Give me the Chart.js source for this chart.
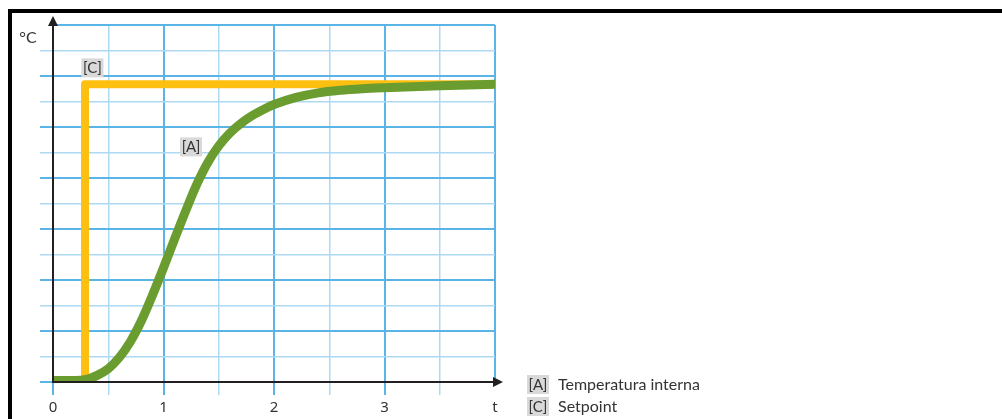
<!DOCTYPE html>
<html>
<head>
<meta charset="utf-8">
<script src="https://cdn.jsdelivr.net/npm/chart.js@4"></script>
<style>
  html, body { margin: 0; padding: 0; background: #fff; }
  #wrap { position: relative; width: 1002px; height: 419px; overflow: hidden; }
  #frame { position: absolute; left: 8px; top: 9px; width: 1100px; height: 500px;
           border-top: 4px solid #000; border-left: 4px solid #000; box-sizing: border-box; }
  canvas { position: absolute; left: 0; top: 0; }
</style>
</head>
<body>
<div id="wrap">
  <div id="frame"></div>
  <canvas id="c" width="1002" height="419"></canvas>
</div>
<script>
// ---- data ----
const tValues    = [0, 0.1, 0.2, 0.3, 0.4, 0.5, 0.6, 0.7, 0.8, 0.9, 1.0, 1.1, 1.2, 1.3, 1.4, 1.5, 1.6, 1.7, 1.8, 1.9, 2.0, 2.2, 2.4, 2.6, 2.8, 3.0, 3.5, 4.0];
const tempValues = [0.03, 0.03, 0.03, 0.05, 0.13, 0.26, 0.48, 0.79, 1.20, 1.70, 2.24, 2.80, 3.35, 3.87, 4.30, 4.63, 4.88, 5.07, 5.22, 5.34, 5.44, 5.58, 5.67, 5.72, 5.75, 5.77, 5.81, 5.84];
const setpointTimes  = [0.29, 0.29, 4.0];
const setpointValues = [0, 5.84, 5.84];
const xTickValues = [0, 1, 2, 3, 4];
const xTickLabels = ['0', '1', '2', '3', 't'];
const seriesTags  = ['[A]', '[C]'];
const seriesNames = ['Temperatura interna', 'Setpoint'];
const yUnit = '°C';

const GREEN = '#6b9c2f', YELLOW = '#fdc010';
const MAJOR = '#5ab4e6', MINOR = '#aed9f2', AXIS = '#231f20', TEXT = '#333333';

const toPts = (xs, ys) => xs.map((x, i) => ({ x: x, y: ys[i] }));
const isMajor = v => Math.abs(v - Math.round(v)) < 1e-6;

function tagBox(ctx, text, cx, cy) {
  ctx.save();
  ctx.font = '15px Lato';
  const w = 22, h = 19;
  ctx.fillStyle = '#d9d9d9';
  ctx.fillRect(cx - w / 2, cy - h / 2, w, h);
  ctx.fillStyle = TEXT;
  ctx.textAlign = 'center';
  ctx.textBaseline = 'middle';
  ctx.fillText(text, cx, cy + 0.5);
  ctx.restore();
}

const decor = {
  id: 'decor',
  afterDatasetsDraw(chart) {
    const { ctx, chartArea: a, scales: { x, y } } = chart;
    const ox = x.getPixelForValue(0), oy = y.getPixelForValue(0);
    ctx.save();
    ctx.strokeStyle = AXIS; ctx.fillStyle = AXIS; ctx.lineWidth = 2;
    // y axis
    ctx.beginPath(); ctx.moveTo(ox, oy + 1); ctx.lineTo(ox, a.top - 4); ctx.stroke();
    ctx.beginPath(); ctx.moveTo(ox, a.top - 9); ctx.lineTo(ox - 5, a.top + 1); ctx.lineTo(ox + 5, a.top + 1); ctx.closePath(); ctx.fill();
    // x axis
    ctx.beginPath(); ctx.moveTo(ox, oy); ctx.lineTo(a.right + 2, oy); ctx.stroke();
    ctx.beginPath(); ctx.moveTo(a.right + 8, oy); ctx.lineTo(a.right - 2, oy - 5); ctx.lineTo(a.right - 2, oy + 5); ctx.closePath(); ctx.fill();
    // unit
    ctx.font = '16px Lato'; ctx.fillStyle = TEXT; ctx.textAlign = 'center'; ctx.textBaseline = 'middle';
    ctx.fillText(yUnit, ox - 25, a.top + 13);
    ctx.restore();
    // in-chart tags
    tagBox(ctx, seriesTags[1], x.getPixelForValue(0.357), y.getPixelForValue(6.16));
    tagBox(ctx, seriesTags[0], x.getPixelForValue(1.249), y.getPixelForValue(4.61));
    // legend
    const lx = a.right + 43;
    seriesTags.forEach((tg, i) => {
      const cy = oy + 2.5 + i * 22;
      tagBox(ctx, tg, lx, cy);
      ctx.save();
      ctx.font = '16px Lato'; ctx.fillStyle = TEXT; ctx.textAlign = 'left'; ctx.textBaseline = 'middle';
      ctx.fillText(seriesNames[i], lx + 20, cy + 0.5);
      ctx.restore();
    });
  }
};

new Chart(document.getElementById('c'), {
  type: 'scatter',
  data: {
    datasets: [
      { label: seriesNames[1], data: toPts(setpointTimes, setpointValues), showLine: true,
        borderColor: YELLOW, borderWidth: 8, pointRadius: 0, tension: 0,
        borderJoinStyle: 'round', borderCapStyle: 'butt', order: 2 },
      { label: seriesNames[0], data: toPts(tValues, tempValues), showLine: true,
        borderColor: GREEN, borderWidth: 9, pointRadius: 0, cubicInterpolationMode: 'monotone',
        borderCapStyle: 'round', borderJoinStyle: 'round', order: 1 }
    ]
  },
  options: {
    responsive: false, animation: false, devicePixelRatio: 1,
    layout: { padding: { left: 40, top: 25, right: 507, bottom: 7 } },
    plugins: { legend: { display: false }, tooltip: { enabled: false } },
    scales: {
      x: {
        type: 'linear', min: 0, max: 4,
        afterBuildTicks: s => { const t = []; for (let v = 0; v <= 4.0001; v += 0.5) t.push({ value: v }); s.ticks = t; },
        afterFit: s => { s.height = 30; },
        border: { display: false },
        grid: {
          color: c => isMajor(c.tick.value) ? MAJOR : MINOR,
          lineWidth: c => isMajor(c.tick.value) ? 2 : 1.5,
          tickColor: c => (c.tick.value > 3.9 ? 'rgba(0,0,0,0)' : (isMajor(c.tick.value) ? MAJOR : MINOR)),
          tickLength: 13, drawTicks: true
        },
        ticks: {
          autoSkip: false, maxRotation: 0, padding: 4, color: TEXT,
          font: { family: 'Noto Sans', size: 15 },
          callback: v => { const i = xTickValues.indexOf(v); return i >= 0 ? xTickLabels[i] : ''; }
        }
      },
      y: {
        type: 'linear', min: 0, max: 7,
        afterBuildTicks: s => { const t = []; for (let v = 0; v <= 7.0001; v += 0.5) t.push({ value: v }); s.ticks = t; },
        afterFit: s => { s.width = 13; },
        border: { display: false },
        grid: {
          color: c => isMajor(c.tick.value) ? MAJOR : MINOR,
          lineWidth: c => isMajor(c.tick.value) ? 2 : 1.5,
          tickColor: c => (c.tick.value > 6.9 ? 'rgba(0,0,0,0)' : (isMajor(c.tick.value) ? MAJOR : MINOR)),
          tickLength: 13, drawTicks: true
        },
        ticks: { display: false }
      }
    }
  },
  plugins: [decor]
});
</script>
</body>
</html>
